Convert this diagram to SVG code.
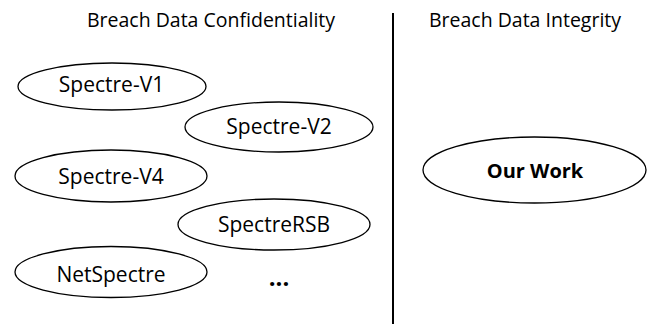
<svg xmlns="http://www.w3.org/2000/svg" width="649" height="324" viewBox="0 0 649 324">
<style>
.n ellipse{fill:#fff;stroke:#000;stroke-width:1.3}
text{font-family:"Open Sans","Noto Sans","DejaVu Sans",sans-serif;fill:#000;text-anchor:middle}
.t{font-size:19.5px}
.l{font-size:21px}
.b{font-weight:bold}
.w{font-size:20px}
.d{font-size:24px}
</style>
<rect width="649" height="324" fill="#fff"/>
<g id="headers">
<text class="t" x="211" y="27">Breach Data Confidentiality</text>
<text class="t" x="525" y="27">Breach Data Integrity</text>
</g>
<g id="connectors">
<line x1="393" y1="13" x2="393" y2="324" stroke="#000" stroke-width="2"/>
</g>
<g id="spectre-v1" class="n"><ellipse cx="112" cy="86.5" rx="94" ry="23.5"/><text class="l" x="111.5" y="92">Spectre-V1</text></g>
<g id="spectre-v2" class="n"><ellipse cx="279" cy="127" rx="94" ry="25"/><text class="l" x="279" y="134">Spectre-V2</text></g>
<g id="spectre-v4" class="n"><ellipse cx="111" cy="176" rx="96" ry="26"/><text class="l" x="111" y="184">Spectre-V4</text></g>
<g id="spectre-rsb" class="n"><ellipse cx="274" cy="224.5" rx="96" ry="25.5"/><text class="l" x="274" y="232">SpectreRSB</text></g>
<g id="netspectre" class="n"><ellipse cx="111" cy="272" rx="96" ry="25.5"/><text class="l" x="111" y="281.5">NetSpectre</text></g>
<g id="more"><text class="d b" x="279" y="286">...</text></g>
<g id="our-work" class="n"><ellipse cx="534.5" cy="170" rx="111.5" ry="33"/><text class="w b" x="535" y="177.5">Our Work</text></g>
</svg>
